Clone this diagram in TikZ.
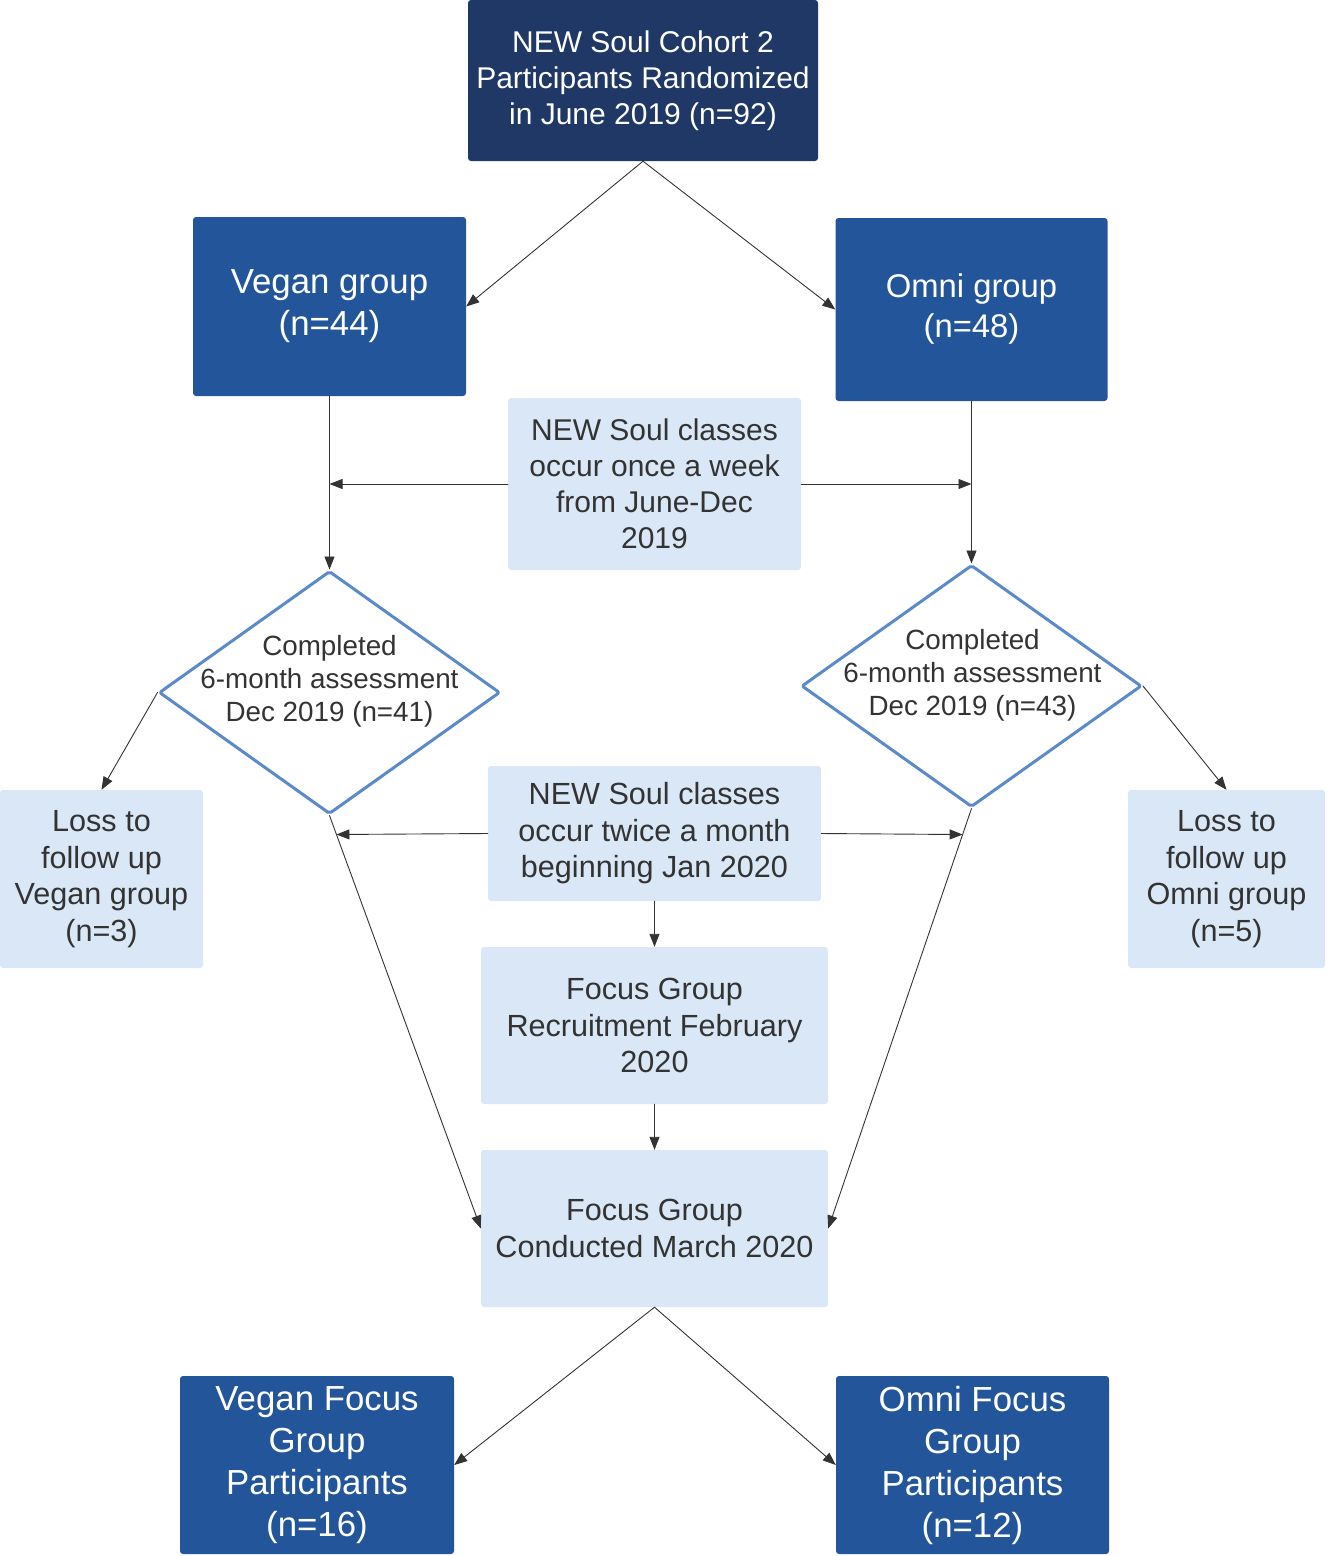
\documentclass[tikz,border=0pt]{standalone}
\usepackage{fontspec}
\setmainfont{Liberation Sans}
\usepackage{xcolor}
\usepackage{tikz}
\usetikzlibrary{arrows.meta,shapes.geometric}
\definecolor{nsNavy}{HTML}{1F3866}
\definecolor{nsBlue}{HTML}{23559A}
\definecolor{nsPale}{HTML}{D9E7F6}
\definecolor{nsEdge}{HTML}{5A8ACB}
\definecolor{nsInk}{HTML}{333333}
\tikzset{
  ns diagram/.style={x=1pt, y=-1pt, line cap=round, line join=round},
  ns box/.style={fill=nsBlue, text=white, rounded corners=3pt, align=center,
    inner sep=0pt, font=\fontsize{34.8}{42}\selectfont},
  ns top box/.style={ns box, fill=nsNavy, font=\fontsize{30}{36}\selectfont},
  ns light box/.style={ns box, fill=nsPale, text=nsInk,
    font=\fontsize{30.6}{36.5}\selectfont},
  ns decision/.style={diamond, draw=nsEdge, fill=white, line width=3pt,
    inner sep=0pt, rounded corners=2pt},
  ns decision text/.style={align=center, text=nsInk, font=\fontsize{27.8}{33}\selectfont},
  ns arrow/.style={-{Triangle[length=13pt,width=10pt]}, draw=nsInk, line width=0.9pt}
}

\begin{document}
\begin{tikzpicture}[ns diagram]
\useasboundingbox (0,0) rectangle (1326,1556);
\node[ns top box,minimum width=350pt,minimum height=161pt] (cohort) at (643,80.5) {NEW Soul Cohort 2\\Participants Randomized\\in June 2019 (n=92)};
\node[ns box,minimum width=273pt,minimum height=179pt] (vegan) at (329.5,306.5) {Vegan group\\(n=44)};
\node[ns box,minimum width=272pt,minimum height=183pt,font=\fontsize{32.8}{40}\selectfont] (omni) at (971.5,309.5) {Omni group\\(n=48)};
\node[ns light box,minimum width=293pt,minimum height=172pt,font=\fontsize{30}{36}\selectfont] (weekly) at (654.5,484) {NEW Soul classes\\occur once a week\\from June-Dec\\2019};
\node[ns decision,minimum width=341pt,minimum height=243pt] (vdone) at (329.5,692.5) {};
\node[ns decision text] (vdonetxt) at (329.5,681) {Completed\\6-month assessment\\Dec 2019 (n=41)};
\node[ns decision,minimum width=340pt,minimum height=242pt] (odone) at (971.5,686) {};
\node[ns decision text] (odonetxt) at (972.5,675) {Completed\\6-month assessment\\Dec 2019 (n=43)};
\node[ns light box,minimum width=203pt,minimum height=178pt] (vloss) at (101.5,879) {Loss to\\follow up\\Vegan group\\(n=3)};
\node[ns light box,minimum width=197pt,minimum height=178pt] (oloss) at (1226.5,879) {Loss to\\follow up\\Omni group\\(n=5)};
\node[ns light box,minimum width=333pt,minimum height=135pt] (monthly) at (654.5,833.5) {NEW Soul classes\\occur twice a month\\beginning Jan 2020};
\node[ns light box,minimum width=347pt,minimum height=157pt] (recruit) at (654.5,1025.5) {Focus Group\\Recruitment February\\2020};
\node[ns light box,minimum width=347pt,minimum height=157pt] (conduct) at (654.5,1228.5) {Focus Group\\Conducted March 2020};
\node[ns box,minimum width=274pt,minimum height=178pt] (vfocus) at (317,1465) {Vegan Focus\\Group\\Participants\\(n=16)};
\node[ns box,minimum width=273pt,minimum height=178pt] (ofocus) at (972.5,1465) {Omni Focus\\Group\\Participants\\(n=12)};
\path (vdone.south) -- (conduct.west) coordinate[pos=0.046] (vmid);
\path (odone.south) -- (conduct.east) coordinate[pos=0.062] (omid);
\draw[ns arrow] (cohort.south) -- (vegan.east);
\draw[ns arrow] (cohort.south) -- (omni.west);
\draw[ns arrow] (vegan.south) -- (vdone.north);
\draw[ns arrow] (omni.south) -- (odone.north);
\draw[ns arrow] (weekly.west) -- (vegan.south |- weekly.west);
\draw[ns arrow] (weekly.east) -- (omni.south |- weekly.east);
\draw[ns arrow] (vdone.west) -- (vloss.north);
\draw[ns arrow] (odone.east) -- (oloss.north);
\draw[ns arrow] (vdone.south) -- (conduct.west);
\draw[ns arrow] (odone.south) -- (conduct.east);
\draw[ns arrow] (monthly.west) -- (vmid);
\draw[ns arrow] (monthly.east) -- (omid);
\draw[ns arrow] (monthly.south) -- (recruit.north);
\draw[ns arrow] (recruit.south) -- (conduct.north);
\draw[ns arrow] (conduct.south) -- (vfocus.east);
\draw[ns arrow] (conduct.south) -- (ofocus.west);
\end{tikzpicture}
\end{document}
